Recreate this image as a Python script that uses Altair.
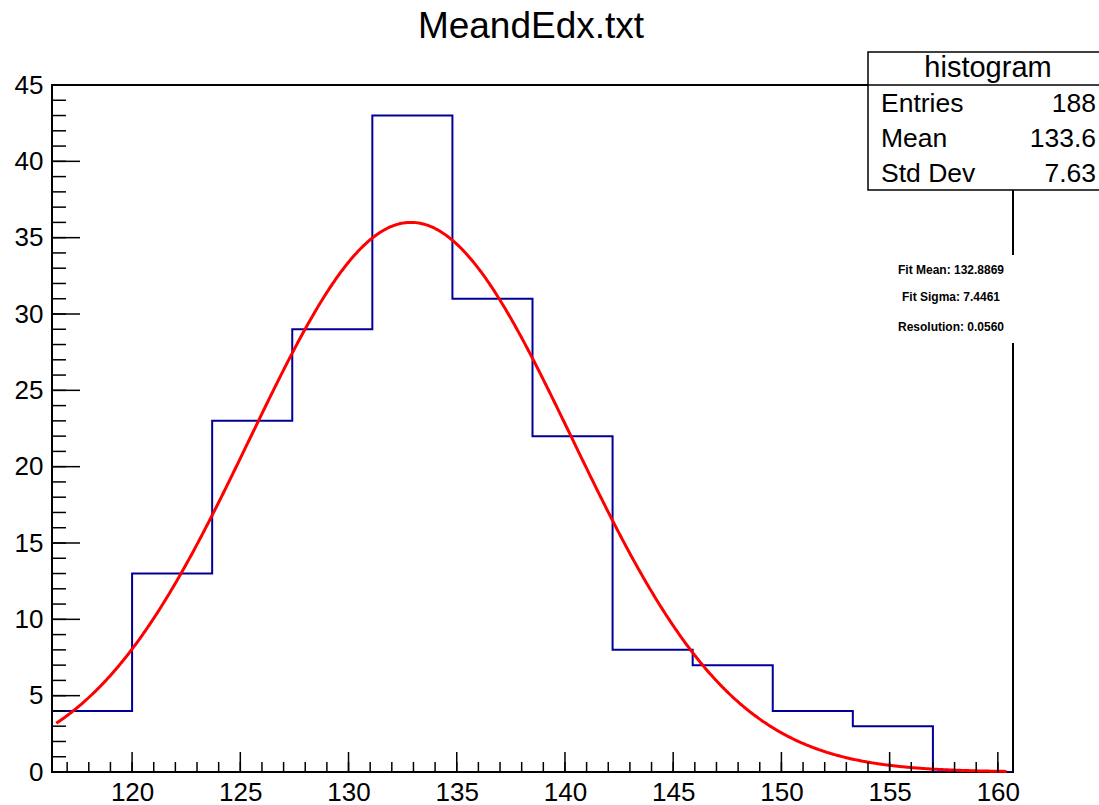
import altair as alt
import pandas as pd

# Histogram of mean dE/dx: bin edges and counts per bin
bin_edges = [116.3, 120.0, 123.7, 127.4, 131.1, 134.8, 138.5, 142.2,
             145.9, 149.6, 153.3, 157.0, 160.7]
bin_counts = [4, 13, 23, 29, 43, 31, 22, 8, 7, 4, 3, 0]

# Gaussian fit parameters
fit_amplitude = 36.0
fit_mean = 132.8869
fit_sigma = 7.4461
fit_range = [116.5, 160.4]

# Axis ranges and tick values
x_domain = [116.3, 160.7]
y_domain = [0, 45]
x_major = [120, 125, 130, 135, 140, 145, 150, 155, 160]
x_minor = list(range(117, 161))
y_major = [0, 5, 10, 15, 20, 25, 30, 35, 40, 45]
y_minor = list(range(0, 46))

# Statistics box
stat_names = ["Entries", "Mean", "Std Dev"]
stat_values = ["188", "133.6", "7.63"]
fit_lines = ["Fit Mean: 132.8869", "Fit Sigma: 7.4461", "Resolution: 0.0560"]

W, H = 961, 687
FONT = "Liberation Sans"

xs = alt.Scale(domain=x_domain, nice=False, zero=False)
ys = alt.Scale(domain=y_domain, nice=False, zero=False)

# step outline of the histogram
hist_df = pd.DataFrame({
    "x": bin_edges,
    "y": bin_counts + [0],
})
hist = alt.Chart(hist_df).mark_line(
    interpolate="step-after", color="#000099", strokeWidth=2, clip=True
).encode(
    x=alt.X("x:Q", scale=xs,
            axis=alt.Axis(values=x_major, labelFontSize=26, labelFont=FONT,
                          labelColor="black", ticks=False, domain=False,
                          grid=False, title=None, labelPadding=7)),
    y=alt.Y("y:Q", scale=ys,
            axis=alt.Axis(values=y_major, labelFontSize=26, labelFont=FONT,
                          labelColor="black", ticks=False, domain=False,
                          grid=False, title=None, labelPadding=9)),
)

# fitted gaussian
fit = alt.Chart(alt.sequence(fit_range[0], fit_range[1], 0.05, as_="x")).transform_calculate(
    y=f"{fit_amplitude} * exp(-pow(datum.x - {fit_mean}, 2) / (2 * {fit_sigma} * {fit_sigma}))"
).mark_line(color="#ff0000", strokeWidth=3).encode(
    x=alt.X("x:Q", scale=xs),
    y=alt.Y("y:Q", scale=ys),
)

# inward ticks
def xticks(vals, length):
    return alt.Chart(pd.DataFrame({"v": vals})).mark_rule(
        color="black", strokeWidth=1.5
    ).encode(x=alt.X("v:Q", scale=xs), y=alt.value(H), y2=alt.value(H - length))


def yticks(vals, length):
    return alt.Chart(pd.DataFrame({"v": vals})).mark_rule(
        color="black", strokeWidth=1.5
    ).encode(y=alt.Y("v:Q", scale=ys), x=alt.value(0), x2=alt.value(length))


ticks = xticks(x_minor, 10) + xticks(x_major, 20) + yticks(y_minor, 14) + yticks(y_major, 28)

one = pd.DataFrame({"t": ["MeandEdx.txt"]})

title = alt.Chart(one).mark_text(
    font=FONT, fontSize=37, color="black", align="center", baseline="alphabetic"
).encode(x=alt.value(479), y=alt.value(-47), text="t:N")

# white pad hiding the frame behind the fit results
fit_pad = alt.Chart(one).mark_rect(fill="white", stroke=None).encode(
    x=alt.value(828), x2=alt.value(966), y=alt.value(170), y2=alt.value(258)
)

fit_df = pd.DataFrame({"t": fit_lines, "y": [189, 216, 246]})
fit_text = alt.Chart(fit_df).mark_text(
    font=FONT, fontSize=12, fontWeight="bold", color="black",
    align="center", baseline="alphabetic"
).encode(x=alt.value(899), y=alt.Y("y:Q", scale=None), text="t:N")

stat_box = alt.Chart(one).mark_rect(fill="white", stroke="black", strokeWidth=1.5).encode(
    x=alt.value(816), x2=alt.value(1070), y=alt.value(-33), y2=alt.value(105)
)
stat_sep = alt.Chart(one).mark_rule(color="black", strokeWidth=1.5).encode(
    x=alt.value(816), x2=alt.value(1070), y=alt.value(0)
)
stat_head = alt.Chart(pd.DataFrame({"t": ["histogram"]})).mark_text(
    font=FONT, fontSize=29, color="black", align="center", baseline="alphabetic"
).encode(x=alt.value(936), y=alt.value(-8), text="t:N")

stats_df = pd.DataFrame({"name": stat_names, "val": stat_values, "y": [27, 62, 97]})
stat_names_t = alt.Chart(stats_df).mark_text(
    font=FONT, fontSize=26.5, color="black", align="left", baseline="alphabetic"
).encode(x=alt.value(829), y=alt.Y("y:Q", scale=None), text="name:N")
stat_vals_t = alt.Chart(stats_df).mark_text(
    font=FONT, fontSize=26.5, color="black", align="right", baseline="alphabetic"
).encode(x=alt.value(1044), y=alt.Y("y:Q", scale=None), text="val:N")

chart = alt.layer(
    hist, fit, ticks, title, fit_pad, fit_text,
    stat_box, stat_sep, stat_head, stat_names_t, stat_vals_t
).properties(
    width=W, height=H,
    autosize=alt.AutoSizeParams(type="none"),
    padding={"left": 52, "top": 85, "right": 86, "bottom": 33},
    background="white",
).configure_view(stroke="black", strokeWidth=2)

chart.save("out.html", embed_options={"renderer": "svg", "actions": False})
